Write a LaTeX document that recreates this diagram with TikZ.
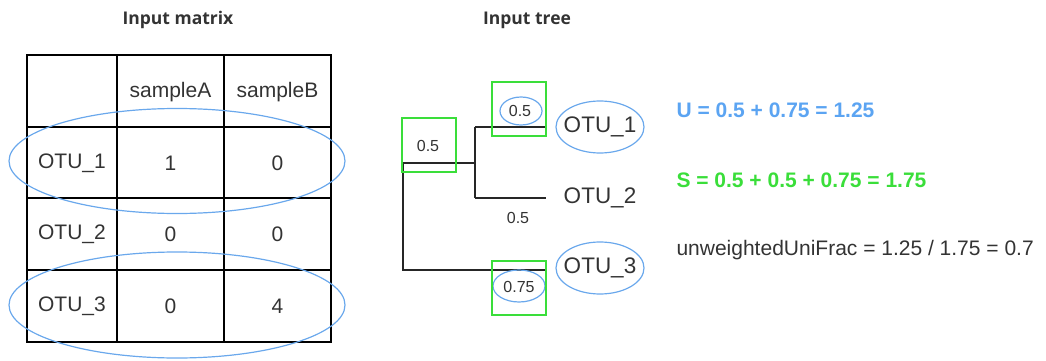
\documentclass[tikz,border=0pt]{standalone}
\usepackage{fontspec}
\setmainfont{Liberation Sans}
\newfontfamily\headfont{Open Sans}
\usetikzlibrary{shapes.geometric}
\definecolor{txt}{HTML}{333333}
\definecolor{hlblue}{HTML}{5BA4F2}
\definecolor{hlgreen}{HTML}{3ADE3A}
\definecolor{ringblue}{HTML}{6AA8EC}
\begin{document}
\begin{tikzpicture}[x=1pt,y=-1pt,
  title/.style={font=\headfont\fontsize{17.5}{20}\selectfont\bfseries, text=txt},
  cell/.style={font=\fontsize{21}{24}\selectfont, text=txt},
  leaf/.style={font=\fontsize{22.5}{26}\selectfont, text=txt},
  brlen/.style={font=\fontsize{16}{19}\selectfont, text=txt},
  grid/.style={line width=1.3pt, black},
  branch/.style={line width=1.3pt, black!85},
  ring/.style={draw=ringblue, line width=1.2pt, ellipse, inner sep=0pt},
  pick/.style={draw=hlgreen, line width=1.4pt},
  formula/.style={font=\fontsize{21}{24}\selectfont, anchor=west}]
\useasboundingbox (0,0) rectangle (1046,361);

% titles
\node[title] (tm) at (178,20) {Input matrix};
\node[title] (tt) at (527,20) {Input tree};

% table grid
\draw[grid] (27,55) rectangle (331,342);
\foreach \x in {117,224} \draw[grid] (\x,55) -- (\x,342);
\foreach \y in {127,198,270} \draw[grid] (27,\y) -- (331,\y);

% table contents
\node[cell] (hA) at (170.5,92) {sampleA};
\node[cell] (hB) at (277.5,92) {sampleB};
\node[cell] (r1) at (72,163) {OTU\_1};
\node[cell] (r2) at (72,234) {OTU\_2};
\node[cell] (r3) at (72,306) {OTU\_3};
\node[cell] (a1) at (170.5,163) {1};
\node[cell] (b1) at (277.5,163) {0};
\node[cell] (a2) at (170.5,234) {0};
\node[cell] (b2) at (277.5,234) {0};
\node[cell] (a3) at (170.5,306) {0};
\node[cell] (b3) at (277.5,306) {4};

% rows present in some sample
\node[ring, minimum width=336pt, minimum height=105pt] (e1) at (177,161) {};
\node[ring, minimum width=336pt, minimum height=106pt] (e3) at (177,305) {};

% tree joints
\coordinate (root) at (403,163);
\coordinate (inner) at (475,163);
\coordinate (top) at (475,127);
\coordinate (mid) at (475,198);
\coordinate (low) at (403,270);
\coordinate (t1) at (546,127);
\coordinate (t2) at (546,198);
\coordinate (t3) at (546,270);

\draw[branch] (root) -- (inner);
\draw[branch] (top) -- (mid);
\draw[branch] (top) -- (t1);
\draw[branch] (mid) -- (t2);
\draw[branch] (root) -- (low) -- (t3);

% leaves
\node[leaf] (o1) at (600,127) {OTU\_1};
\node[leaf] (o2) at (600,198) {OTU\_2};
\node[leaf] (o3) at (600,268) {OTU\_3};
\node[ring, minimum width=88pt, minimum height=52pt] (o1r) at (600,127) {};
\node[ring, minimum width=88pt, minimum height=52pt] (o3r) at (600,268) {};

% branch lengths
\node[brlen] (l0) at (428,146) {0.5};
\node[brlen] (l1) at (520,111) {0.5};
\node[brlen] (l2) at (518,218) {0.5};
\node[brlen] (l3) at (519,287) {0.75};
\node[ring, minimum width=42pt, minimum height=28pt] (l1r) at (521,111) {};
\node[ring, minimum width=52pt, minimum height=32pt] (l3r) at (519,286) {};

% branches counted in the total
\node[pick, minimum width=54pt, minimum height=54pt, inner sep=0pt] (g0) at (429,145) {};
\node[pick, minimum width=54pt, minimum height=54pt, inner sep=0pt] (g1) at (519,109) {};
\node[pick, minimum width=54pt, minimum height=54pt, inner sep=0pt] (g3) at (519,288) {};

% results
\node[formula, text=hlblue, font=\fontsize{21}{24}\selectfont\bfseries] (U) at (673,110) {U = 0.5 + 0.75 = 1.25};
\node[formula, text=hlgreen, font=\fontsize{21}{24}\selectfont\bfseries] (S) at (673,180) {S = 0.5 + 0.5 + 0.75 = 1.75};
\node[formula, text=txt] (W) at (673,250) {unweightedUniFrac = 1.25 / 1.75 = 0.7};
\end{tikzpicture}
\end{document}
